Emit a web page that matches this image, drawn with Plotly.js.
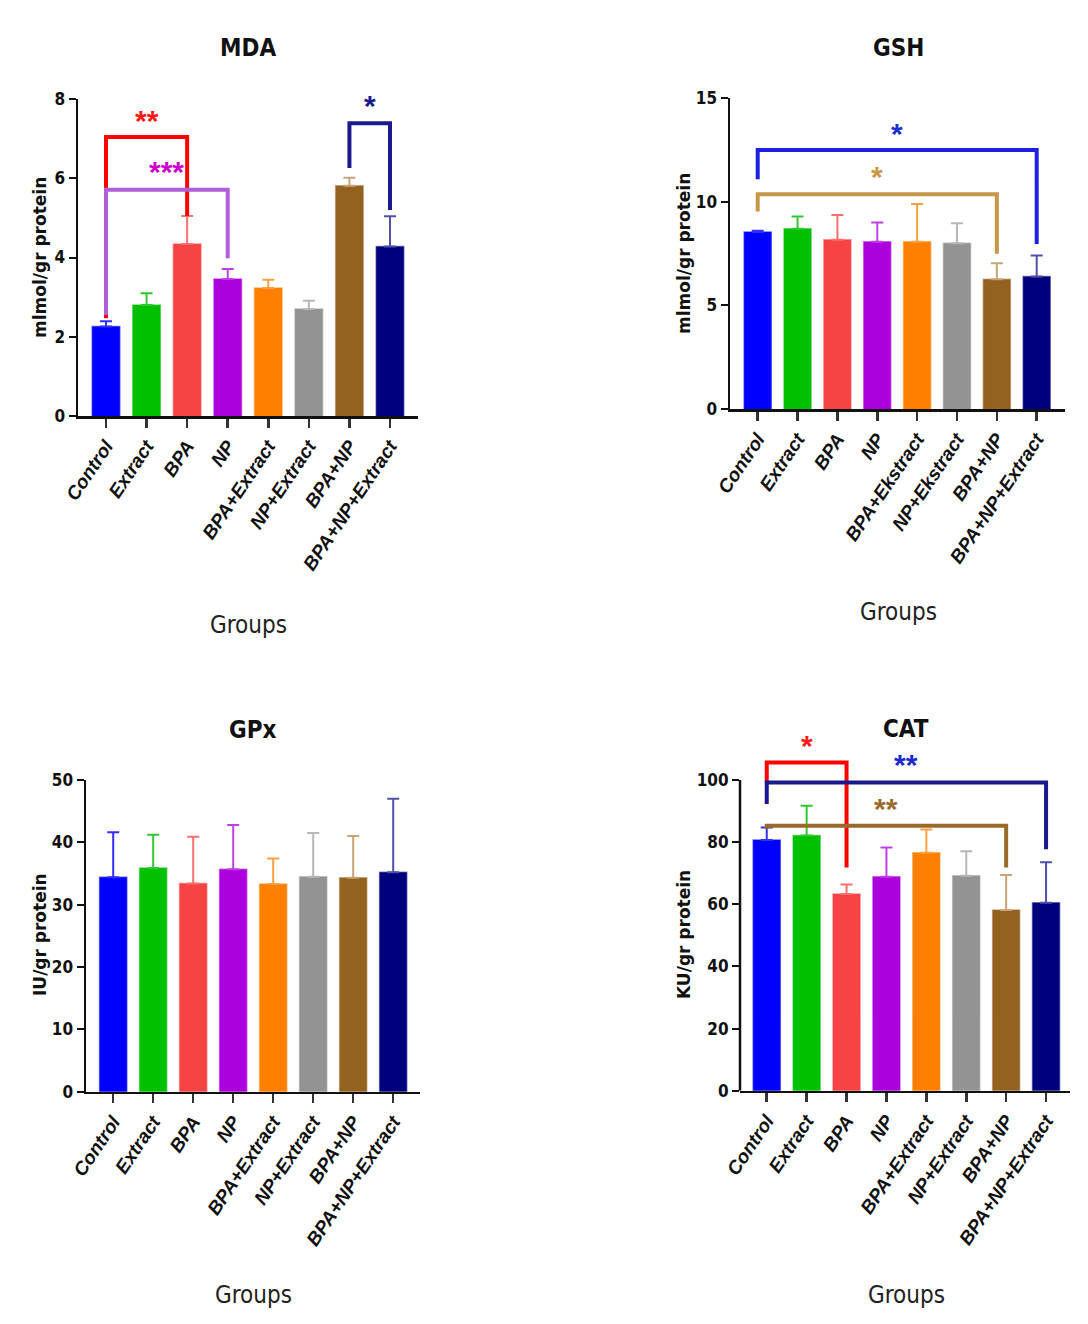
<!DOCTYPE html>
<html>
<head>
<meta charset="utf-8">
<script src="https://cdn.plot.ly/plotly-3.0.1.min.js"></script>
<style>html,body{margin:0;padding:0;background:#fff;}</style>
</head>
<body>
<div id="chart" style="width:1088px;height:1324px;"></div>
<script>
// ---------- DATA ----------
const groups = ["Control","Extract","BPA","NP","BPA+Extract","NP+Extract","BPA+NP","BPA+NP+Extract"];
const groupsGSH = ["Control","Extract","BPA","NP","BPA+Ekstract","NP+Ekstract","BPA+NP","BPA+NP+Extract"];

const mdaMean = [2.26, 2.80, 4.34, 3.46, 3.23, 2.70, 5.81, 4.28];
const mdaErr  = [0.13, 0.30, 0.71, 0.25, 0.21, 0.21, 0.20, 0.76];

const gshMean = [8.54, 8.70, 8.17, 8.07, 8.07, 8.00, 6.27, 6.40];
const gshErr  = [0.06, 0.59, 1.20, 0.93, 1.83, 0.97, 0.77, 1.01];

const gpxMean = [34.4, 35.9, 33.4, 35.7, 33.3, 34.5, 34.3, 35.2];
const gpxErr  = [7.2, 5.3, 7.5, 7.1, 4.1, 7.0, 6.7, 11.8];

const catMean = [80.7, 82.1, 63.3, 68.9, 76.6, 69.2, 58.2, 60.5];
const catErr  = [4.0, 9.6, 3.1, 9.4, 7.5, 7.9, 11.2, 13.0];

// significance brackets: [fromIndex, toIndex, top, leftLegEnd, rightLegEnd, label, labelY]
const mdaBrackets = [[0, 2, 7.04, 2.47, 5.05, "**", 7.56],
                     [0, 3, 5.71, 2.55, 3.98, "***", 6.26],
                     [6, 7, 7.39, 6.26, 5.20, "*", 7.94]];
const gshBrackets = [[0, 7, 12.5, 11.09, 7.97, "*", 13.5],
                     [0, 6, 10.37, 9.53, 7.49, "*", 11.41]];
const catBrackets = [[0, 2, 105.6, 99.5, 71.8, "*", 112.3],
                     [0, 7, 99.2, 92.3, 77.7, "**", 106.4],
                     [0, 6, 85.3, 84.3, 71.8, "**", 92.0]];

// ---------- STYLE ----------
const barColors = ["#0000FF","#00C000","#F74343","#AC00DD","#FF8000","#939393","#946220","#00007F"];
const edgeColors = ["rgba(0,0,255,0.55)","rgba(0,192,0,0.5)","rgba(247,67,67,0.5)","rgba(172,0,221,0.5)",
                    "rgba(255,128,0,0.5)","rgba(147,147,147,0.5)","rgba(148,98,32,0.45)","rgba(0,0,127,0.45)"];
const errColors = ["#3030FF","#30C830","#F87070","#C040E8","#FFA040","#B8B8B8","#C8A478","#5050A8"];
const mdaBrColors = ["#FF0000","#B060D8","#1A1A8C"];
const mdaStarColors = ["#FF1A1A","#CC00CC","#1A1A8C"];
const gshBrColors = ["#2020E0","#C8964A"];
const gshStarColors = ["#1F2FD0","#C8964A"];
const catBrColors = ["#FF0000","#1A1A8C","#9A6A2A"];
const catStarColors = ["#FF1A1A","#1A2AD0","#9A6A2A"];

const W = 1088, H = 1324;
const cond = "DejaVu Sans Condensed, Liberation Sans Narrow, Arial Narrow, sans-serif";
const sans = "Liberation Sans, Arial, sans-serif";
const wide = "DejaVu Sans, Verdana, sans-serif";
const starSize = 30;

const panels = [
  {id:"", mean:mdaMean, err:mdaErr, labels:groups, br:mdaBrackets, brC:mdaBrColors, stC:mdaStarColors,
   xpx:[78,418], xr:[-0.69,7.69], ypx:[416,99], yr:[0,8], tv:[0,2,4,6,8], axisTop:8,
   title:"MDA", titleXY:[248,48], groupsY:625, ytitle:"mlmol/gr protein", ytitleXY:[40,258]},
  {id:"2", mean:gshMean, err:gshErr, labels:groupsGSH, br:gshBrackets, brC:gshBrColors, stC:gshStarColors,
   xpx:[730,1065], xr:[-0.695,7.71], ypx:[409,98.3], yr:[0,15], tv:[0,5,10,15], axisTop:15,
   title:"GSH", titleXY:[898,48], groupsY:612, ytitle:"mlmol/gr protein", ytitleXY:[684,254]},
  {id:"3", mean:gpxMean, err:gpxErr, labels:groups, br:[], brC:[], stC:[],
   xpx:[86,420], xr:[-0.68,7.67], ypx:[1091.7,780], yr:[0,50], tv:[0,10,20,30,40,50], axisTop:50,
   title:"GPx", titleXY:[253,730], groupsY:1295, ytitle:"IU/gr protein", ytitleXY:[40,935]},
  {id:"4", mean:catMean, err:catErr, labels:groups, br:catBrackets, brC:catBrColors, stC:catStarColors,
   xpx:[740,1070], xr:[-0.67,7.6], ypx:[1090.7,733.4], yr:[0,115], tv:[0,20,40,60,80,100], axisTop:100,
   title:"CAT", titleXY:[906,729], groupsY:1295, ytitle:"KU/gr protein", ytitleXY:[684,935]}
];

const traces = [];
const layout = {
  width: W, height: H, margin:{l:0,r:0,t:0,b:0},
  paper_bgcolor:"#ffffff", plot_bgcolor:"rgba(0,0,0,0)",
  showlegend:false, barmode:"overlay", bargap:0,
  shapes:[], annotations:[]
};

const idx = groups.map((_, i) => i);

panels.forEach(p => {
  const xa = "x" + p.id, ya = "y" + p.id;
  p.mean.forEach((m, i) => {
    traces.push({
      type:"bar", x:[idx[i]], y:[m], width:0.68, xaxis:xa, yaxis:ya,
      marker:{color:barColors[i], line:{color:edgeColors[i], width:1.5}},
      error_y:{type:"data", symmetric:false, array:[p.err[i]], arrayminus:[0],
               color:errColors[i], thickness:2, width:6},
      hoverinfo:"skip"
    });
  });
  const xKey = "xaxis" + p.id, yKey = "yaxis" + p.id;
  layout[xKey] = {
    domain:[p.xpx[0]/W, p.xpx[1]/W], range:p.xr, anchor:ya,
    tickmode:"array", tickvals:idx, ticktext:p.labels, tickangle:-56,
    ticks:"outside", ticklen:9, tickwidth:2.5, tickcolor:"#333",
    showline:true, linecolor:"#111", linewidth:2.5,
    showgrid:false, zeroline:false, fixedrange:true,
    tickfont:{family:sans, size:19, color:"#111", weight:"bold", style:"italic"}
  };
  const showY = p.axisTop === p.yr[1];
  layout[yKey] = {
    domain:[1 - p.ypx[0]/H, 1 - p.ypx[1]/H], range:p.yr, anchor:xa,
    tickmode:"array", tickvals:p.tv, ticks:"outside", ticklen:7, tickwidth:2, tickcolor:"#111",
    showline:showY, linecolor:"#111", linewidth:2.5,
    showgrid:false, zeroline:false, fixedrange:true,
    tickfont:{family:cond, size:17, color:"#111", weight:"bold"}
  };
  if (!showY) {
    layout.shapes.push({type:"line", xref:"paper", yref:ya, x0:p.xpx[0]/W, x1:p.xpx[0]/W,
      y0:0, y1:p.axisTop, line:{color:"#111", width:2.5}});
  }
  // brackets
  p.br.forEach((b, k) => {
    const [a, c, top, l, r, lab, ly] = b;
    layout.shapes.push({type:"path", xref:xa, yref:ya,
      path:`M ${idx[a]},${l} L ${idx[a]},${top} L ${idx[c]},${top} L ${idx[c]},${r}`,
      line:{color:p.brC[k], width:4}});
    layout.annotations.push({xref:xa, yref:ya, x:(idx[a]+idx[c])/2, y:ly, text:lab,
      showarrow:false, yanchor:"middle", yshift:-4,
      font:{family:sans, size:starSize, color:p.stC[k], weight:"bold"}});
  });
  // titles
  layout.annotations.push({xref:"paper", yref:"paper", x:p.titleXY[0]/W, y:1 - p.titleXY[1]/H,
    text:p.title, showarrow:false, xanchor:"center", yanchor:"middle",
    font:{family:cond, size:24, color:"#111", weight:"bold"}});
  layout.annotations.push({xref:"paper", yref:"paper", x:p.titleXY[0]/W, y:1 - p.groupsY/H,
    text:"Groups", showarrow:false, xanchor:"center", yanchor:"middle",
    font:{family:cond, size:24, color:"#222"}});
  layout.annotations.push({xref:"paper", yref:"paper", x:p.ytitleXY[0]/W, y:1 - p.ytitleXY[1]/H,
    text:p.ytitle, showarrow:false, textangle:-90, xanchor:"center", yanchor:"middle",
    font:{family:wide, size:17, color:"#111", weight:"bold"}});
});

Plotly.newPlot("chart", traces, layout, {staticPlot:true, displayModeBar:false});
</script>
</body>
</html>
